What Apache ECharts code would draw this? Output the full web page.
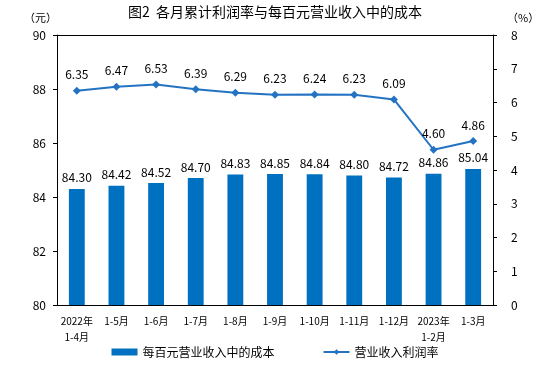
<!DOCTYPE html>
<html>
<head>
<meta charset="utf-8">
<script src="https://cdn.jsdelivr.net/npm/echarts@6/dist/echarts.min.js"></script>
<style>
  html, body { margin: 0; padding: 0; background: #fff; }
  #chart { width: 550px; height: 377px; }
</style>
</head>
<body>
<div id="chart"></div>
<script>
const categories = ['2022年\n1-4月', '1-5月', '1-6月', '1-7月', '1-8月', '1-9月', '1-10月', '1-11月', '1-12月', '2023年\n1-2月', '1-3月'];
const costPer100 = [84.30, 84.42, 84.52, 84.70, 84.83, 84.85, 84.84, 84.80, 84.72, 84.86, 85.04];
const profitRate = [6.35, 6.47, 6.53, 6.39, 6.29, 6.23, 6.24, 6.23, 6.09, 4.60, 4.86];

const font = '"Noto Sans CJK SC", sans-serif';
const chart = echarts.init(document.getElementById('chart'));

chart.setOption({
  backgroundColor: '#fff',
  textStyle: { fontFamily: font },
  title: {
    text: '图2  各月累计利润率与每百元营业收入中的成本',
    left: 'center',
    top: 0,
    textStyle: { fontSize: 14, fontWeight: 'normal', color: '#000', fontFamily: font }
  },
  legend: {
    bottom: 14,
    left: 'center',
    itemGap: 48,
    itemWidth: 26,
    itemHeight: 7,
    textStyle: { fontSize: 12, color: '#000' },
    data: [
      { name: '每百元营业收入中的成本', icon: 'rect' },
      { name: '营业收入利润率' }
    ]
  },
  grid: { left: 57, right: 57, top: 35, bottom: 72 },
  xAxis: {
    type: 'category',
    data: categories,
    boundaryGap: true,
    axisLine: { lineStyle: { color: '#000' } },
    axisTick: { inside: true, length: 3, alignWithLabel: false, lineStyle: { color: '#555' } },
    axisLabel: { color: '#000', fontSize: 10, interval: 0, margin: 8, lineHeight: 16 }
  },
  yAxis: [
    {
      type: 'value',
      min: 80, max: 90, interval: 2,
      name: '（元）',
      nameGap: 12,
      nameTextStyle: { color: '#000', fontSize: 11, align: 'right' },
      axisLine: { show: true, lineStyle: { color: '#000' } },
      axisTick: { show: true, length: 4, lineStyle: { color: '#000' } },
      axisLabel: { color: '#000', fontSize: 12, margin: 11 },
      splitLine: { show: false }
    },
    {
      type: 'value',
      min: 0, max: 8, interval: 1,
      name: '（%）',
      nameGap: 12,
      nameTextStyle: { color: '#000', fontSize: 11, align: 'left', padding: [0, 0, 0, 14] },
      axisLine: { show: true, lineStyle: { color: '#000' } },
      axisTick: { show: true, length: 4, lineStyle: { color: '#000' } },
      axisLabel: { color: '#000', fontSize: 12, margin: 18 },
      splitLine: { show: false }
    }
  ],
  series: [
    {
      name: '每百元营业收入中的成本',
      type: 'bar',
      yAxisIndex: 0,
      data: costPer100,
      barWidth: '40%',
      itemStyle: { color: '#0070C0' },
      label: {
        show: true, position: 'top', color: '#000', fontSize: 12,
        formatter: p => p.value.toFixed(2)
      }
    },
    {
      name: '营业收入利润率',
      type: 'line',
      yAxisIndex: 1,
      data: profitRate,
      symbol: 'diamond',
      symbolSize: 8,
      lineStyle: { color: '#2473C2', width: 2 },
      itemStyle: { color: '#2473C2' },
      label: {
        show: true, position: 'top', distance: 6, color: '#000', fontSize: 12,
        formatter: p => p.value.toFixed(2)
      }
    },
    {
      // top border of the plot frame
      type: 'line',
      data: [],
      markLine: {
        silent: true, symbol: 'none', label: { show: false },
        lineStyle: { color: '#000', type: 'solid', width: 1 },
        data: [{ yAxis: 90 }]
      }
    }
  ]
});
</script>
</body>
</html>
